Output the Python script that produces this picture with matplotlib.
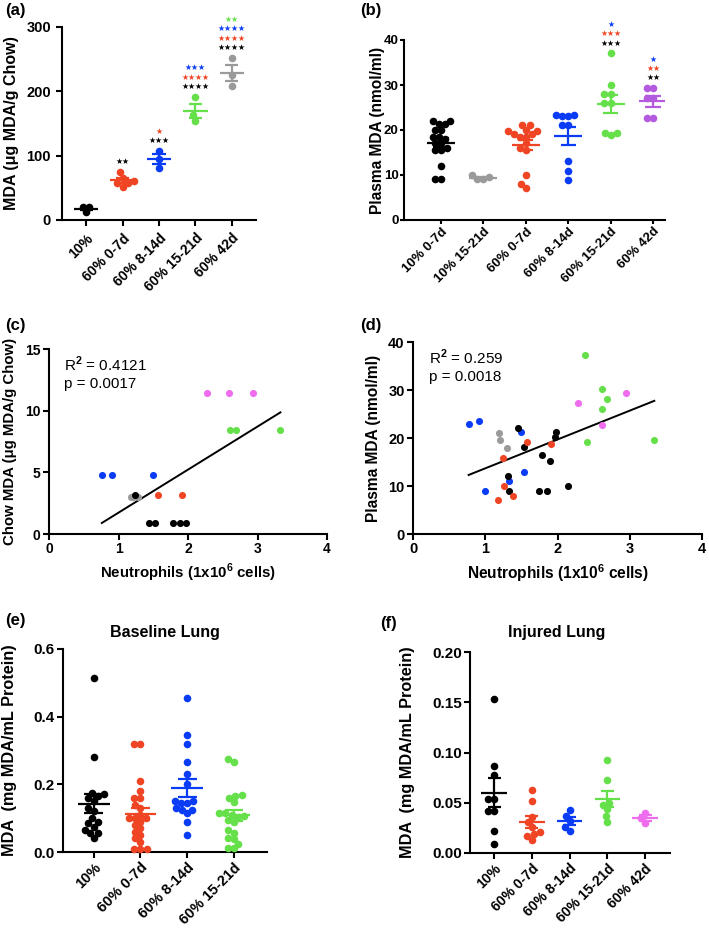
import numpy as np
import matplotlib
matplotlib.use("Agg")
import matplotlib.pyplot as plt

plt.rcParams["font.family"] = ["Liberation Sans", "DejaVu Sans"]
plt.rcParams["font.weight"] = "bold"
plt.rcParams["axes.labelweight"] = "bold"
plt.rcParams["mathtext.fontset"] = "custom"
plt.rcParams["mathtext.rm"] = "Liberation Sans"
plt.rcParams["mathtext.bf"] = "Liberation Sans:bold"

BLACK = "#000000"
GRAY = "#9a9a9a"
RED = "#ef4524"
BLUE = "#0a3cf5"
GREEN = "#66e04a"
PURPLE = "#b45ade"
MAGENTA = "#ef6cef"
COLORS = {"black": BLACK, "gray": GRAY, "red": RED, "blue": BLUE,
          "green": GREEN, "magenta": MAGENTA}

# (a) chow MDA
a_labels = ["10%", "60% 0-7d", "60% 8-14d", "60% 15-21d", "60% 42d"]
a_values = [
    [12, 20.7, 20.2],
    [75, 66, 61, 58, 57, 52],
    [107.8, 94.8, 80.3],
    [191.7, 154, 162.8],
    [252.3, 225.4, 208.3],
]
a_colors = [BLACK, RED, BLUE, GREEN, GRAY]
a_stars = {
    1: [("**", BLACK)],
    2: [("***", BLACK), ("*", RED)],
    3: [("****", BLACK), ("****", RED), ("***", BLUE)],
    4: [("****", BLACK), ("****", RED), ("****", BLUE), ("**", GREEN)],
}

# (b) plasma MDA
b_labels = ["10% 0-7d", "10% 15-21d", "60% 0-7d", "60% 8-14d", "60% 15-21d", "60% 42d"]
b_values = [
    [22, 22, 21.3, 21.3, 20, 20, 18.5, 18.5, 18, 17, 17, 16, 15.5, 15.5, 12, 9, 9],
    [9.1, 9.6, 9.9, 9.1],
    [21.1, 21.1, 20, 19.7, 19.7, 19, 19, 18.5, 18.5, 17, 16, 15.5, 10, 8, 7],
    [23.3, 23.3, 23.0, 23.0, 21.1, 21.1, 13.0, 10.9, 8.9],
    [37.0, 30.0, 28.1, 28.1, 25.9, 25.9, 18.9, 19.4, 19.4],
    [29.3, 29.3, 27.0, 27.0, 22.7, 22.7],
]
b_colors = [BLACK, GRAY, RED, BLUE, GREEN, PURPLE]
b_stars = {
    4: [("***", BLACK), ("***", RED), ("*", BLUE)],
    5: [("**", BLACK), ("**", RED), ("*", BLUE)],
}

# (c) chow MDA vs neutrophils
c_neutrophils = [0.76, 0.90, 1.49, 1.18, 1.21, 1.28, 1.24, 1.57, 1.91,
                 1.44, 1.52, 1.78, 1.89, 1.97, 2.28, 2.59, 2.93, 2.60, 2.69, 3.33]
c_mda = [4.75, 4.75, 4.75, 2.97, 2.97, 2.97, 3.13, 3.13, 3.13,
         0.89, 0.89, 0.89, 0.89, 0.89, 11.4, 11.4, 11.4, 8.44, 8.44, 8.44]
c_group = ["blue", "blue", "blue", "gray", "gray", "gray", "black", "red", "red",
           "black", "black", "black", "black", "black", "magenta", "magenta", "magenta",
           "green", "green", "green"]
c_fit = (3.49, -1.76)
c_stats = "R$^{\\mathrm{2}}$ = 0.4121\np = 0.0017"

# (d) plasma MDA vs neutrophils
d_neutrophils = [0.77, 0.91, 0.99, 1.33, 1.49, 1.54,
                 1.19, 1.21, 1.30,
                 1.45, 1.53, 1.31, 1.33, 1.79, 1.74, 1.85, 1.90, 1.97, 1.98, 2.14,
                 1.18, 1.25, 1.26, 1.38, 1.58, 1.91,
                 2.38, 2.62, 2.69, 2.62, 2.41, 3.34,
                 2.29, 2.95, 2.61]
d_mda = [23.0, 23.6, 9.0, 11.1, 21.3, 13.0,
         21.1, 19.6, 17.9,
         22.1, 18.1, 12.1, 9.0, 16.5, 9.0, 9.0, 15.2, 20.3, 21.3, 10.0,
         7.0, 15.8, 10.0, 8.0, 19.1, 18.7,
         37.2, 30.2, 28.2, 26.0, 19.1, 19.6,
         27.3, 29.4, 22.8]
d_group = ["blue"] * 6 + ["gray"] * 3 + ["black"] * 11 + ["red"] * 6 + ["green"] * 6 + ["magenta"] * 3
d_fit = (6.01, 7.67)
d_stats = "R$^{\\mathrm{2}}$ = 0.259\np = 0.0018"

# (e) baseline lung
e_labels = ["10%", "60% 0-7d", "60% 8-14d", "60% 15-21d"]
e_values = [
    [0.515, 0.28, 0.17, 0.165, 0.175, 0.16, 0.15, 0.13, 0.12, 0.1, 0.09, 0.085,
     0.075, 0.065, 0.055, 0.055, 0.04],
    [0.32, 0.32, 0.21, 0.18, 0.16, 0.16, 0.14, 0.13, 0.11, 0.1, 0.1, 0.1, 0.09,
     0.08, 0.07, 0.06, 0.05, 0.04, 0.03, 0.01, 0.01, 0.01],
    [0.455, 0.345, 0.32, 0.265, 0.23, 0.2, 0.15, 0.15, 0.145, 0.145, 0.13, 0.125,
     0.125, 0.115, 0.09, 0.05],
    [0.266, 0.275, 0.166, 0.168, 0.16, 0.148, 0.109, 0.116, 0.114, 0.107, 0.104,
     0.089, 0.094, 0.057, 0.065, 0.04, 0.038, 0.011, 0.011, 0.024],
]
e_colors = [BLACK, RED, BLUE, GREEN]

# (f) injured lung
f_labels = ["10%", "60% 0-7d", "60% 8-14d", "60% 15-21d", "60% 42d"]
f_values = [
    [0.153, 0.087, 0.078, 0.054, 0.054, 0.042, 0.042, 0.022, 0.009],
    [0.063, 0.052, 0.036, 0.031, 0.026, 0.021, 0.019, 0.017, 0.013],
    [0.043, 0.037, 0.032, 0.026, 0.022],
    [0.093, 0.073, 0.050, 0.048, 0.044, 0.037, 0.031],
    [0.040, 0.035, 0.030],
]
f_colors = [BLACK, RED, BLUE, GREEN, MAGENTA]

W, H = 709, 933
fig = plt.figure(figsize=(W / 100, H / 100), dpi=100)


def box(l, r, t, b):
    return [l / W, 1 - b / H, (r - l) / W, (b - t) / H]


def style(ax, size, length=4, pad=2):
    for s in ("top", "right"):
        ax.spines[s].set_visible(False)
    for s in ("left", "bottom"):
        ax.spines[s].set_linewidth(1.5)
    ax.tick_params(width=1.5, length=length, labelsize=size, pad=pad)


def swarm(ypix, diam):
    xs = np.zeros(len(ypix))
    placed = []
    for i in np.argsort(ypix):
        y = ypix[i]
        iv = []
        for px, py in placed:
            dy = abs(py - y)
            if dy < diam:
                dx = np.sqrt(diam ** 2 - dy ** 2)
                iv.append((px - dx, px + dx))
        cands = sorted([0.0] + [e for p in iv for e in p], key=abs)
        for c in cands:
            if all(not (a + 1e-6 < c < b - 1e-6) for a, b in iv):
                xs[i] = c
                break
        placed.append((xs[i], y))
    return xs


def dot_panel(ax, labels, groups, colors, ylim, xlim, ysize, xsize,
              mean_hw=0.33, cap_hw=0.18, length=4, pad=2):
    style(ax, ysize, length, pad)
    ax.set_xlim(*xlim)
    ax.set_ylim(*ylim)
    pos = ax.get_position()
    xpx = pos.width * W / (xlim[1] - xlim[0])
    ypx = pos.height * H / (ylim[1] - ylim[0])
    for i, (vals, c) in enumerate(zip(groups, colors)):
        vals = np.asarray(vals, float)
        off = swarm(vals * ypx, 6.3) / xpx
        ax.scatter(i + off, vals, s=30, color=c, linewidths=0, zorder=3, clip_on=False)
        m = vals.mean()
        se = vals.std(ddof=1) / np.sqrt(len(vals))
        kw = dict(color=c, lw=1.6, zorder=4, solid_capstyle="butt")
        ax.plot([i - mean_hw, i + mean_hw], [m, m], **kw)
        ax.plot([i, i], [m - se, m + se], **kw)
        ax.plot([i - cap_hw, i + cap_hw], [m + se, m + se], **kw)
        ax.plot([i - cap_hw, i + cap_hw], [m - se, m - se], **kw)
    ax.set_xticks(range(len(labels)))
    ax.set_xticklabels(labels, rotation=45, ha="right", rotation_mode="anchor", fontsize=xsize)
    ax.spines["left"].set_bounds(*ylim)


def add_stars(ax, groups, stars):
    for i, rows in stars.items():
        top = max(groups[i])
        for k, (txt, c) in enumerate(rows):
            ax.annotate(txt.replace("*", "★"), xy=(i, top), xytext=(0, 7.5 + 6.6 * k),
                        textcoords="offset points", ha="center", va="center",
                        color=c, fontsize=5.7, family=["DejaVu Sans"],
                        annotation_clip=False)


def scatter_panel(ax, xs, ys, groups, fit, stats, ylim, yticks, ylabel, size, lsize):
    style(ax, size)
    for x, y, g in zip(xs, ys, groups):
        ax.scatter(x, y, s=26, color=COLORS[g], linewidths=0, zorder=3)
    xl = np.array([min(xs), max(xs)])
    ax.plot(xl, fit[0] * xl + fit[1], color=BLACK, lw=1.4, zorder=2)
    ax.set_xlim(0, 4)
    ax.set_ylim(*ylim)
    ax.set_xticks([0, 1, 2, 3, 4])
    ax.set_yticks(yticks)
    ax.text(0.055, 0.97, stats, transform=ax.transAxes, fontsize=11,
            fontweight="normal", va="top", ha="left", linespacing=1.25)
    ax.set_xlabel("Neutrophils (1x10$^{\\mathbf{6}}$ cells)", fontsize=lsize)
    ax.set_ylabel(ylabel, fontsize=lsize)


def label_x(ax, xpix):
    pos = ax.get_position()
    return (xpix / W - pos.x0) / pos.width


# (a)
ax_a = fig.add_axes(box(62, 256, 27, 220))
dot_panel(ax_a, a_labels, a_values, a_colors, (0, 300), (-0.66, 4.66), 10.5, 10, pad=4)
ax_a.set_yticks([0, 100, 200, 300])
add_stars(ax_a, a_values, a_stars)
ax_a.set_ylabel("MDA (μg MDA/g Chow)", fontsize=11.5)
ax_a.yaxis.set_label_coords(label_x(ax_a, 19), 0.5)

# (b)
ax_b = fig.add_axes(box(404, 665, 40, 220))
dot_panel(ax_b, b_labels, b_values, b_colors, (0, 40), (-0.87, 5.28), 9.5, 9.5,
          length=3, pad=1)
ax_b.set_yticks([0, 10, 20, 30, 40])
add_stars(ax_b, b_values, b_stars)
ax_b.set_ylabel("Plasma MDA (nmol/ml)", fontsize=11.2)
ax_b.yaxis.set_label_coords(label_x(ax_b, 385), 0.5)

# (c)
ax_c = fig.add_axes(box(49, 327, 349, 534))
scatter_panel(ax_c, c_neutrophils, c_mda, c_group, c_fit, c_stats, (0, 15),
              [0, 5, 10, 15], "Chow MDA (μg MDA/g Chow)", 10, 10.8)
ax_c.yaxis.set_label_coords(label_x(ax_c, 17), 0.5)

# (d)
ax_d = fig.add_axes(box(413, 702, 342, 534))
scatter_panel(ax_d, d_neutrophils, d_mda, d_group, d_fit, d_stats, (0, 40),
              [0, 10, 20, 30, 40], "Plasma MDA (nmol/ml)", 10.5, 11.2)
ax_d.yaxis.set_label_coords(label_x(ax_d, 381), 0.5)

# (e)
ax_e = fig.add_axes(box(63, 267, 649, 852))
dot_panel(ax_e, e_labels, e_values, e_colors, (0, 0.6), (-0.66, 3.71), 11, 10.5,
          mean_hw=0.34, cap_hw=0.2)
ax_e.set_yticks([0, 0.2, 0.4, 0.6])
ax_e.set_yticklabels(["0.0", "0.2", "0.4", "0.6"])
ax_e.set_ylabel("MDA  (mg MDA/mL Protein)", fontsize=11.7)
ax_e.yaxis.set_label_coords(label_x(ax_e, 17), 0.5)

# (f)
ax_f = fig.add_axes(box(470, 670, 652, 853))
dot_panel(ax_f, f_labels, f_values, f_colors, (0, 0.2), (-0.64, 4.66), 11, 10,
          mean_hw=0.34, cap_hw=0.17)
ax_f.set_yticks([0, 0.05, 0.1, 0.15, 0.2])
ax_f.set_yticklabels(["0.00", "0.05", "0.10", "0.15", "0.20"])
ax_f.set_ylabel("MDA  (mg MDA/mL Protein)", fontsize=11.7)
ax_f.yaxis.set_label_coords(label_x(ax_f, 415), 0.5)

fig.text(165 / W, 1 - 632 / H, "Baseline Lung", ha="center", va="center", fontsize=11.5)
fig.text(557 / W, 1 - 632 / H, "Injured Lung", ha="center", va="center", fontsize=11.5)

for txt, x, y in [("(a)", 5, 3), ("(b)", 360, 3), ("(c)", 5, 318),
                  ("(d)", 360, 318), ("(e)", 5, 613), ("(f)", 380, 616)]:
    fig.text(x / W, 1 - y / H, txt, ha="left", va="top", fontsize=12)

fig.savefig("out.png", dpi=100)
